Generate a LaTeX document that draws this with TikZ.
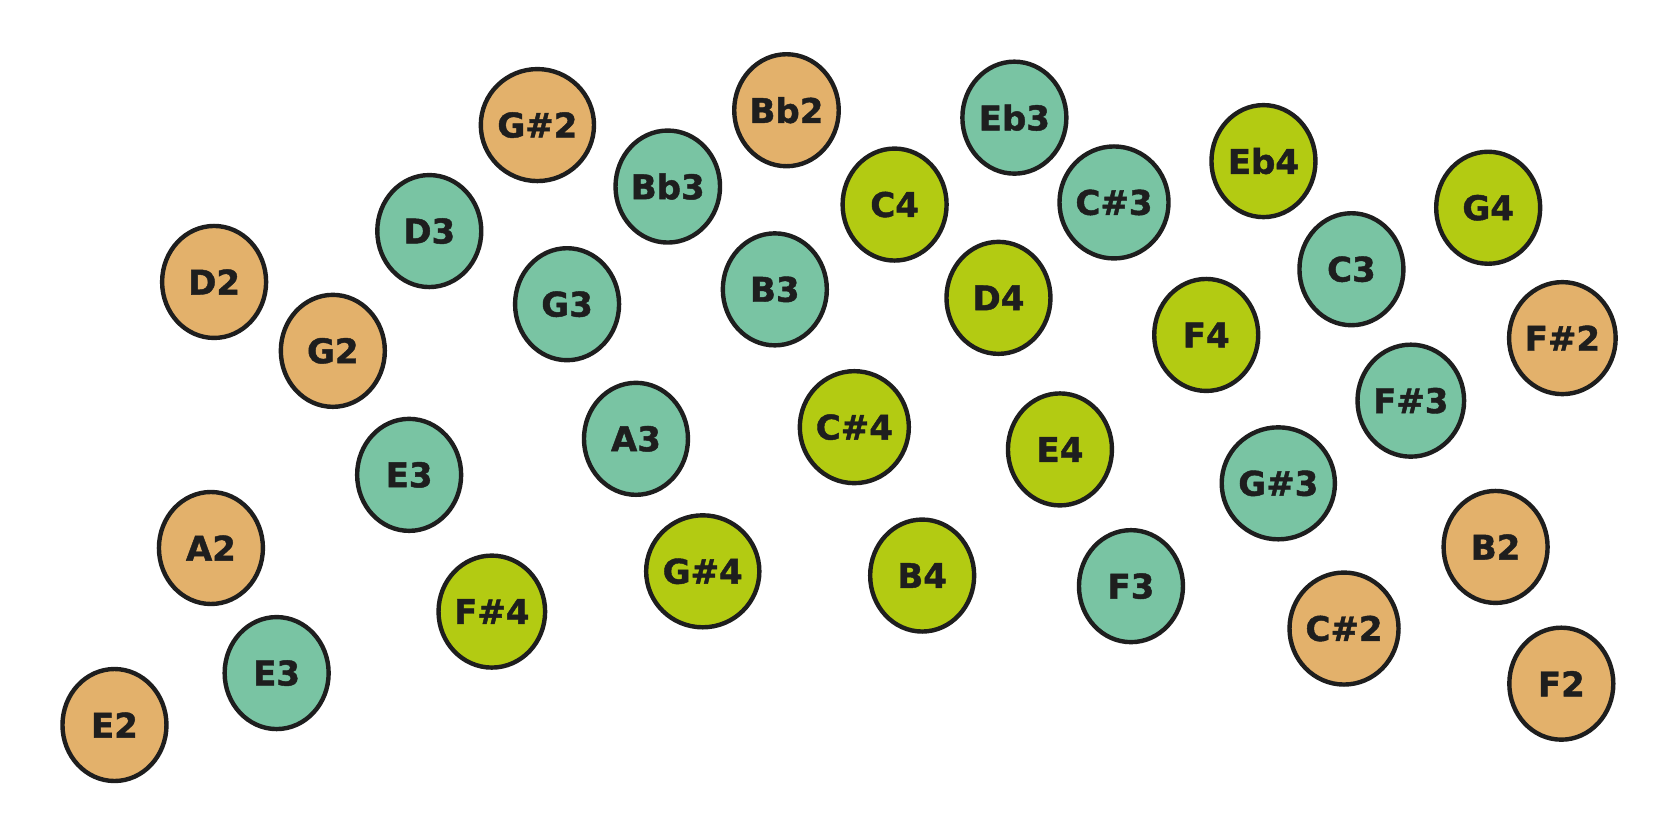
\documentclass[tikz,border=0pt]{standalone}
\usepackage{fontspec}
\setmainfont{DejaVu Sans}
\newfontfamily\heavy[FakeBold=1.3]{DejaVu Sans Bold}
\usetikzlibrary{shapes.geometric}
\definecolor{corange}{HTML}{E3B16B}
\definecolor{cteal}{HTML}{79C4A3}
\definecolor{cgreen}{HTML}{B3CB12}
\definecolor{cline}{HTML}{1E1E1E}
\tikzset{
  note/.style={ellipse, draw=cline, line width=2.2pt, minimum width=52pt, minimum height=56pt, inner sep=0pt,
    font=\heavy\fontsize{17}{17}\selectfont, text=cline},
  no/.style={note, fill=corange},
  nt/.style={note, fill=cteal},
  ng/.style={note, fill=cgreen}
}
\begin{document}
\begin{tikzpicture}[x=0.53pt, y=-0.53pt]
\useasboundingbox[fill=white] (0,0) rectangle (1568,786);
\node[no] (e2) at (108,684) {E2};
\node[nt] (e3b) at (261,635) {E3};
\node[no] (a2) at (199,517) {A2};
\node[ng] (fs4) at (464,577) {F\#4};
\node[nt] (e3a) at (386,448) {E3};
\node[no] (g2) at (314,331) {G2};
\node[no] (d2) at (202,266) {D2};
\node[nt] (d3) at (405,218) {D3};
\node[no] (gs2) at (507,118) {G\#2};
\node[nt] (g3) at (535,287) {G3};
\node[nt] (bb3) at (630,176) {Bb3};
\node[nt] (a3) at (600,414) {A3};
\node[ng] (gs4) at (663,539) {G\#4};
\node[no] (bb2) at (742,104) {Bb2};
\node[nt] (b3) at (731,273) {B3};
\node[ng] (cs4) at (806,403) {C\#4};
\node[ng] (c4) at (844,193) {C4};
\node[ng] (b4) at (870,543) {B4};
\node[nt] (eb3) at (957,111) {Eb3};
\node[ng] (d4) at (942,281) {D4};
\node[ng] (e4) at (1000,424) {E4};
\node[nt] (cs3) at (1051,191) {C\#3};
\node[nt] (f3) at (1067,553) {F3};
\node[ng] (eb4) at (1192,152) {Eb4};
\node[ng] (f4) at (1138,316) {F4};
\node[nt] (gs3) at (1206,456) {G\#3};
\node[nt] (c3) at (1275,254) {C3};
\node[no] (cs2) at (1268,593) {C\#2};
\node[nt] (fs3) at (1331,378) {F\#3};
\node[ng] (g4) at (1404,196) {G4};
\node[no] (fs2) at (1474,319) {F\#2};
\node[no] (b2) at (1411,516) {B2};
\node[no] (f2) at (1473,645) {F2};
\end{tikzpicture}
\end{document}
